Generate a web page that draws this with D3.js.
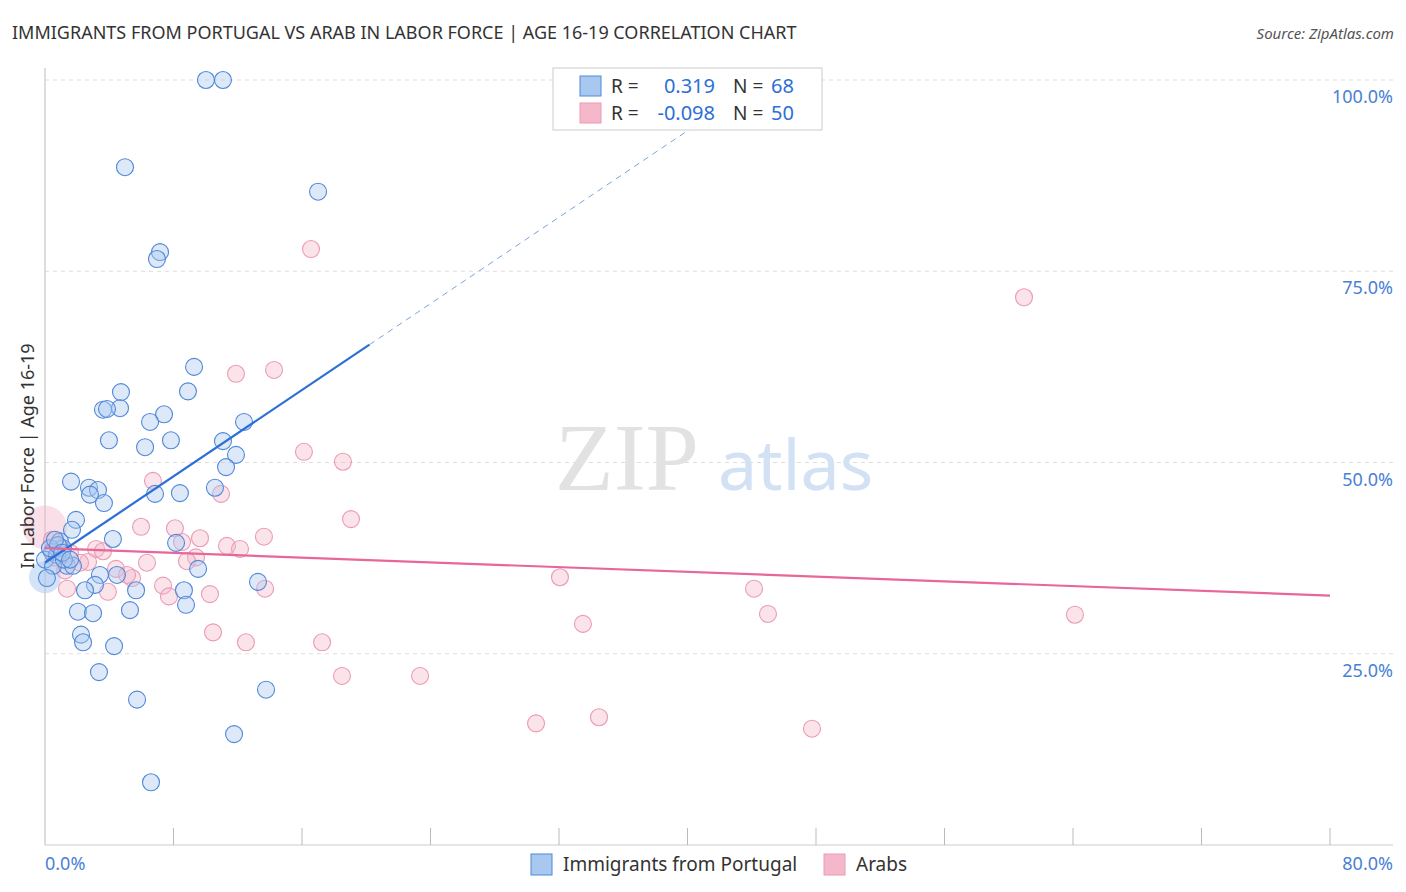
<!DOCTYPE html><html><head><meta charset="utf-8">
<script src="https://cdn.jsdelivr.net/npm/d3@7"></script>
<style>body{margin:0;background:#fff;font-family:"Noto Sans",sans-serif}</style></head><body>
<svg id="c" width="1406" height="892"></svg>
<script>
// pixel-read positions converted to data (x: % , y: %)
const bluePx=[[206,80],[223,80],[125,167],[318,192],[160,252],[157,259],[194,367],[121,392],[188,391],[103,410],[120,408],[107,409],[164,414],[150,422],[244,422],[109,440],[171,440],[145,447],[223,441],[236,455],[226,467],[71,482],[89,488],[98,490],[90,495],[104,503],[215,488],[180,493],[155,494],[76,520],[72,530],[113,539],[176,543],[60,541],[63,548],[52,552],[45,560],[57,555],[67,566],[73,566],[53,566],[100,575],[117,575],[95,585],[85,590],[136,590],[184,590],[198,569],[258,582],[130,610],[186,605],[78,612],[93,613],[81,635],[83,642],[114,646],[99,672],[137,700],[266,690],[234,734],[151,782],[47,578],[50,548],[58,545],[64,560],[55,540],[62,553],[70,560]];
const pinkPx=[[311,249],[1024,297],[274,370],[236,374],[304,452],[343,462],[153,481],[221,494],[351,519],[141,527],[175,528],[227,546],[264,537],[200,538],[182,542],[240,549],[96,549],[103,551],[88,562],[147,563],[196,557],[187,561],[116,569],[132,578],[127,575],[560,577],[754,589],[265,589],[67,589],[163,586],[169,596],[210,594],[108,592],[213,632],[768,614],[583,624],[1075,615],[246,642],[322,642],[342,676],[420,676],[599,717],[536,723],[812,729],[55,557],[80,563],[60,548],[70,553],[52,540],[65,570]];
const toData=p=>[+((p[0]-45)/16.0625).toFixed(2),+((845-p[1])/7.65).toFixed(1)];
const blueX=bluePx.map(p=>toData(p)[0]), blueY=bluePx.map(p=>toData(p)[1]);
const pinkX=pinkPx.map(p=>toData(p)[0]), pinkY=pinkPx.map(p=>toData(p)[1]);
const bigBlue=[[0,35]], bigPink=[[0,41.5]];
const blueLine=[[0,36.9],[20.2,65.4]], blueDash=[[20.2,65.4],[44.7,100]];
const pinkLine=[[0,38.8],[80,32.6]];
const yTicks=[25,50,75,100];
const svg=d3.select("#c");
const x=d3.scaleLinear().domain([0,80]).range([45,1330]);
const y=d3.scaleLinear().domain([0,100]).range([845,80]);
svg.selectAll(".g").data(yTicks).join("line").attr("x1",45).attr("x2",1393).attr("y1",d=>y(d)).attr("y2",d=>y(d)).attr("stroke","#ddd").attr("stroke-dasharray","4,4");
svg.append("line").attr("x1",45).attr("x2",1393).attr("y1",845).attr("y2",845).attr("stroke","#ccc");
svg.append("line").attr("x1",45).attr("x2",45).attr("y1",68).attr("y2",845).attr("stroke","#bbb");
svg.selectAll(".t").data(d3.range(1,11)).join("line").attr("x1",d=>x(d*8)).attr("x2",d=>x(d*8)).attr("y1",828).attr("y2",845).attr("stroke","#bbb");
svg.selectAll(".yl").data(yTicks).join("text").attr("x",1393).attr("y",d=>y(d)+23).attr("text-anchor","end").attr("fill","#4a7fd6").attr("font-size",18).text(d=>d.toFixed(1)+"%");
svg.append("text").attr("x",45).attr("y",870).attr("fill","#4a7fd6").attr("font-size",18).text("0.0%");
svg.append("text").attr("x",1393).attr("y",870).attr("text-anchor","end").attr("font-size",18).attr("fill","#4a7fd6").text("80.0%");
svg.append("text").attr("x",555).attr("y",490).attr("font-family","Liberation Serif,serif").attr("font-size",96).attr("fill","#e2e2e2").text("ZIP");
svg.append("text").attr("x",718).attr("y",490).attr("font-size",70).attr("fill","#d3e1f5").text("atlas");
const dot=(xs,ys,fill,stroke)=>svg.append("g").selectAll("circle").data(xs.map((v,i)=>[v,ys[i]])).join("circle").attr("cx",d=>x(d[0])).attr("cy",d=>y(d[1])).attr("r",8.5).attr("fill",fill).attr("fill-opacity",0.4).attr("stroke",stroke).attr("stroke-width",1.1);
svg.selectAll(".bp").data(bigPink).join("circle").attr("cx",d=>x(d[0])).attr("cy",d=>y(d[1])).attr("r",22).attr("fill","#f5b8cb").attr("fill-opacity",0.45);
svg.selectAll(".bb").data(bigBlue).join("circle").attr("cx",d=>x(d[0])).attr("cy",d=>y(d[1])).attr("r",16).attr("fill","#a9c8f0").attr("fill-opacity",0.5);
dot(pinkX,pinkY,"#f5b8cb","#eb9ab5");
dot(blueX,blueY,"#a9c8f0","#4f88d8");
const ln=d3.line().x(d=>x(d[0])).y(d=>y(d[1]));
svg.append("path").attr("d",ln(blueLine)).attr("stroke","#2c6fd6").attr("stroke-width",2.2).attr("fill","none");
svg.append("path").attr("d",ln(blueDash)).attr("stroke","#7aa3e0").attr("stroke-width",1).attr("stroke-dasharray","6,5").attr("fill","none");
svg.append("path").attr("d",ln(pinkLine)).attr("stroke","#e8679a").attr("stroke-width",2.2).attr("fill","none");
svg.append("text").attr("x",12).attr("y",39).attr("font-size",18).attr("fill","#333").text("IMMIGRANTS FROM PORTUGAL VS ARAB IN LABOR FORCE | AGE 16-19 CORRELATION CHART");
svg.append("text").attr("x",1394).attr("y",39).attr("text-anchor","end").attr("font-size",15).attr("font-style","italic").attr("fill","#555").text("Source: ZipAtlas.com");
svg.append("text").attr("transform","translate(34,456) rotate(-90)").attr("text-anchor","middle").attr("font-size",18).attr("fill","#333").text("In Labor Force | Age 16-19");
const lg=svg.append("g");
lg.append("rect").attr("x",553).attr("y",68).attr("width",269).attr("height",62).attr("fill","#fff").attr("stroke","#ccc");
[["#a9c8f0","#4f88d8","0.319","68",86],["#f5b8cb","#eb9ab5","-0.098","50",113]].forEach(r=>{
lg.append("rect").attr("x",580).attr("y",r[4]-10).attr("width",21).attr("height",20).attr("fill",r[0]).attr("stroke",r[1]);
lg.append("text").attr("x",611).attr("y",r[4]+7).attr("font-size",19).attr("fill","#333").text("R =");
lg.append("text").attr("x",715).attr("y",r[4]+7).attr("text-anchor","end").attr("font-size",20).attr("fill","#2c6fd6").text(r[2]);
lg.append("text").attr("x",733).attr("y",r[4]+7).attr("font-size",19).attr("fill","#333").text("N =");
lg.append("text").attr("x",771).attr("y",r[4]+7).attr("font-size",20).attr("fill","#2c6fd6").text(r[3]);});
[["#a9c8f0","#4f88d8","Immigrants from Portugal",531],["#f5b8cb","#eb9ab5","Arabs",824]].forEach(r=>{
svg.append("rect").attr("x",r[3]).attr("y",854).attr("width",21).attr("height",21).attr("fill",r[0]).attr("stroke",r[1]);
svg.append("text").attr("x",r[3]+32).attr("y",871).attr("font-size",19).attr("fill","#333").text(r[2]);});
</script></body></html>
